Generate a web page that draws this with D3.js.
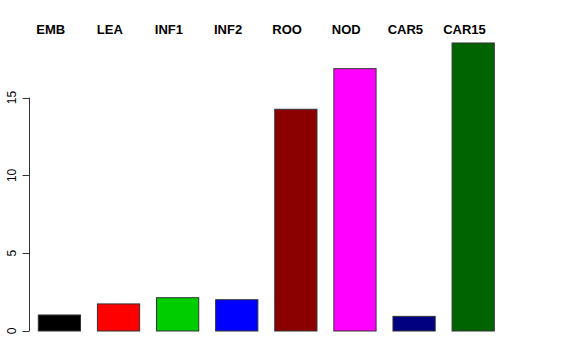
<!DOCTYPE html>
<html>
<head>
<meta charset="utf-8">
<script src="https://cdn.jsdelivr.net/npm/d3@7"></script>
<style>
  body { margin: 0; background: #fff; }
  svg { display: block; }
</style>
</head>
<body>
<svg id="chart" width="576" height="360"></svg>
<script>
    var categories = ["EMB", "LEA", "INF1", "INF2", "ROO", "NOD", "CAR5", "CAR15"];
    var values = [1.03, 1.74, 2.14, 2.01, 14.25, 16.86, 0.94, 18.51];
    var colors = ["#000000", "#ff0000", "#00cd00", "#0000ff", "#8b0000", "#ff00ff", "#000080", "#006400"];
    var yTicks = [0, 5, 10, 15];

    var font = "Liberation Sans, Arial, sans-serif";
    var svg = d3.select("#chart");

    // y: 0 sits at 331, 15 at ~97.6
    var y = d3.scaleLinear().domain([0, 15]).range([331, 97.6]);

    // bars: width 1, space 0.4 (like R barplot)
    var x = d3.scaleBand()
        .domain(categories)
        .range([38.3, 494.3])
        .paddingInner(0.2857)
        .paddingOuter(0);

    svg.selectAll("rect.bar")
        .data(categories)
        .enter()
        .append("rect")
        .attr("class", "bar")
        .attr("x", function (d) { return x(d); })
        .attr("width", x.bandwidth())
        .attr("y", function (d, i) { return y(values[i]); })
        .attr("height", function (d, i) { return y(0) - y(values[i]); })
        .attr("fill", function (d, i) { return colors[i]; })
        .attr("stroke", "#333")
        .attr("stroke-width", 1);

    // labels above the plot
    svg.selectAll("text.lab")
        .data(categories)
        .enter()
        .append("text")
        .attr("class", "lab")
        .attr("x", function (d) { return x(d) + x.bandwidth() / 2 - 8.7; })
        .attr("y", 34)
        .attr("text-anchor", "middle")
        .attr("font-family", font)
        .attr("font-weight", "bold")
        .attr("font-size", "13px")
        .text(function (d) { return d; });

    // y axis, R style
    var axisX = 29.5;
    var ax = svg.append("g").attr("stroke", "#333");
    ax.append("line")
        .attr("x1", axisX).attr("x2", axisX)
        .attr("y1", y(0)).attr("y2", y(15));
    ax.selectAll("line.tick")
        .data(yTicks)
        .enter()
        .append("line")
        .attr("class", "tick")
        .attr("x1", axisX - 7).attr("x2", axisX)
        .attr("y1", function (d) { return Math.round(y(d)) + 0.5; })
        .attr("y2", function (d) { return Math.round(y(d)) + 0.5; });

    svg.selectAll("text.tl")
        .data(yTicks)
        .enter()
        .append("text")
        .attr("class", "tl")
        .attr("transform", function (d) { return "translate(16," + y(d) + ") rotate(-90)"; })
        .attr("text-anchor", "middle")
        .attr("font-family", font)
        .attr("font-size", "12px")
        .text(function (d) { return d; });
</script>
</body>
</html>
